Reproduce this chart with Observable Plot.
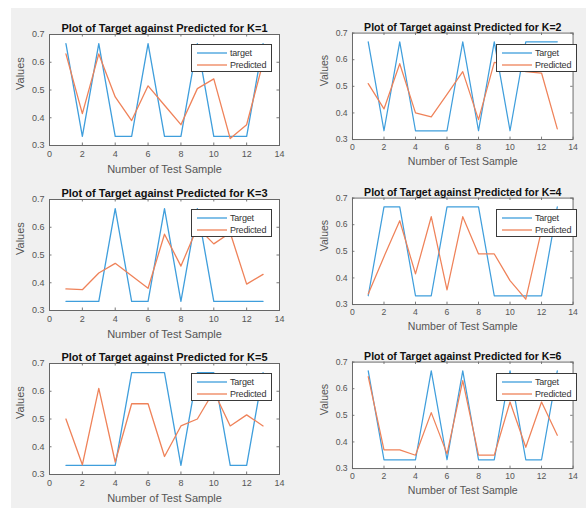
<!DOCTYPE html>
<html>
<head>
<meta charset="utf-8">
<script src="https://cdn.jsdelivr.net/npm/d3@7"></script>
<script src="https://cdn.jsdelivr.net/npm/@observablehq/plot@0.6"></script>
<style>
  html, body { margin: 0; padding: 0; background: #ffffff; overflow: hidden; }
  #fig { position: relative; width: 586px; height: 508px; overflow: hidden; font-family: "Liberation Sans", Arial, sans-serif; }
  #bg { position: absolute; left: 11px; top: 8px; right: 0; bottom: 0; background: #f0f0f0; }
  .panel { position: absolute; }
  .legend { position: absolute; background: #ffffff; border: 1px solid #3a3a3a; box-sizing: border-box; font-size: 9px; color: #333; }
  .legend .row { position: absolute; left: 0; right: 0; height: 12px; }
  .legend svg { position: absolute; left: 5px; top: 0; }
  .legend .lbl { position: absolute; left: 38px; top: 0; line-height: 12px; white-space: nowrap; letter-spacing: -0.2px; }
</style>
</head>
<body>
<div id="fig"><div id="bg"></div></div>
<script>
// ---- data ----
const samples = [1, 2, 3, 4, 5, 6, 7, 8, 9, 10, 11, 12, 13];
const xTicks = [0, 2, 4, 6, 8, 10, 12, 14];
const yTicks = [0.3, 0.4, 0.5, 0.6, 0.7];
const kValues = [1, 2, 3, 4, 5, 6];
const targetLegendLabels = ["target", "Target", "Target", "Target", "Target", "Target"];
const predictedLegendLabel = "Predicted";
const xLabel = "Number of Test Sample";
const yLabel = "Values";

const targetK1 = [0.667, 0.333, 0.667, 0.333, 0.333, 0.667, 0.333, 0.333, 0.667, 0.333, 0.333, 0.333, 0.667];
const predictedK1 = [0.63, 0.415, 0.63, 0.475, 0.39, 0.515, 0.445, 0.375, 0.505, 0.54, 0.325, 0.375, 0.6];

const targetK2 = [0.667, 0.333, 0.667, 0.333, 0.333, 0.333, 0.667, 0.333, 0.667, 0.333, 0.667, 0.667, 0.667];
const predictedK2 = [0.51, 0.415, 0.585, 0.40, 0.385, 0.47, 0.555, 0.375, 0.59, 0.58, 0.555, 0.55, 0.34];

const targetK3 = [0.333, 0.333, 0.333, 0.667, 0.333, 0.333, 0.667, 0.333, 0.667, 0.333, 0.333, 0.333, 0.333];
const predictedK3 = [0.378, 0.375, 0.435, 0.47, 0.425, 0.38, 0.575, 0.46, 0.6, 0.54, 0.58, 0.395, 0.43];

const targetK4 = [0.333, 0.667, 0.667, 0.333, 0.333, 0.667, 0.667, 0.667, 0.333, 0.333, 0.333, 0.333, 0.667];
const predictedK4 = [0.34, 0.48, 0.615, 0.415, 0.63, 0.355, 0.63, 0.49, 0.49, 0.39, 0.32, 0.58, 0.6];

const targetK5 = [0.333, 0.333, 0.333, 0.333, 0.667, 0.667, 0.667, 0.333, 0.667, 0.667, 0.333, 0.333, 0.667];
const predictedK5 = [0.5, 0.335, 0.61, 0.345, 0.555, 0.555, 0.365, 0.475, 0.5, 0.6, 0.475, 0.515, 0.475];

const targetK6 = [0.667, 0.333, 0.333, 0.333, 0.667, 0.333, 0.667, 0.333, 0.333, 0.667, 0.333, 0.333, 0.667];
const predictedK6 = [0.645, 0.37, 0.37, 0.35, 0.51, 0.355, 0.63, 0.35, 0.35, 0.55, 0.38, 0.55, 0.425];

const targets = [targetK1, targetK2, targetK3, targetK4, targetK5, targetK6];
const predicteds = [predictedK1, predictedK2, predictedK3, predictedK4, predictedK5, predictedK6];

// ---- layout / style ----
const blue = "#3f9edc";
const orange = "#ef8259";
const font = "'Liberation Sans', Arial, sans-serif";
const colOffsets = [0, 305];
const rowOffsets = [0, 165, 329];
const W = 293, H = 180, mT = 34, mL = 49, mR = 14, mB = 35;
const fw = W - mL - mR, fh = H - mT - mB;
const tickLen = 2.5;

const fig = document.getElementById("fig");
const svgNS = "http://www.w3.org/2000/svg";

kValues.forEach((k, i) => {
  const col = i % 2, row = Math.floor(i / 2);
  const rows = samples.map((s, j) => ({sample: s, target: targets[i][j], predicted: predicteds[i][j]}));
  const chart = Plot.plot({
    width: W, height: H,
    marginTop: mT, marginLeft: mL, marginRight: mR, marginBottom: mB,
    x: {domain: [0, 14]},
    y: {domain: [0.3, 0.7]},
    style: {background: "transparent", fontFamily: font, overflow: "visible"},
    marks: [
      Plot.frame({fill: "#ffffff"}),
      Plot.tickX(xTicks, {x: d => d, insetTop: fh - tickLen, stroke: "#555", strokeWidth: 0.8}),
      Plot.tickX(xTicks, {x: d => d, insetBottom: fh - tickLen, stroke: "#555", strokeWidth: 0.8}),
      Plot.tickY(yTicks, {y: d => d, insetRight: fw - tickLen, stroke: "#555", strokeWidth: 0.8}),
      Plot.tickY(yTicks, {y: d => d, insetLeft: fw - tickLen, stroke: "#555", strokeWidth: 0.8}),
      Plot.axisX({ticks: xTicks, tickSize: 0, tickPadding: 5, fontSize: 9, fill: "#555", label: null, tickFormat: d3.format("d")}),
      Plot.axisY({ticks: yTicks, tickSize: 0, tickPadding: 5, fontSize: 9, fill: "#555", label: null, tickFormat: d3.format(".1f")}),
      Plot.line(rows, {x: "sample", y: "target", stroke: blue, strokeWidth: 1.3}),
      Plot.line(rows, {x: "sample", y: "predicted", stroke: orange, strokeWidth: 1.3}),
      Plot.frame({stroke: "#666", strokeWidth: 1}),
      Plot.text([`Plot of Target against Predicted for K=${k}`], {frameAnchor: "top", dy: -10, fontWeight: "bold", fontSize: 11, fill: "#111", letterSpacing: "-0.2px"}),
      Plot.text([yLabel], {frameAnchor: "left", dx: -29, rotate: -90, fontSize: 11, fill: "#555"}),
      Plot.text([xLabel], {frameAnchor: "bottom", dy: 27, fontSize: 11, fill: "#555"})
    ]
  });
  const wrap = document.createElement("div");
  wrap.className = "panel";
  wrap.style.left = colOffsets[col] + "px";
  wrap.style.top = rowOffsets[row] + "px";
  wrap.appendChild(chart);
  fig.appendChild(wrap);

  // legend
  const lg = document.createElement("div");
  lg.className = "legend";
  lg.style.left = (colOffsets[col] + mL + 142) + "px";
  lg.style.top = (rowOffsets[row] + mT + 10) + "px";
  lg.style.width = "81px";
  lg.style.height = "28px";
  [[targetLegendLabels[i], blue], [predictedLegendLabel, orange]].forEach(([label, color], r) => {
    const rw = document.createElement("div");
    rw.className = "row";
    rw.style.top = (2 + r * 12) + "px";
    const sv = document.createElementNS(svgNS, "svg");
    sv.setAttribute("width", "31");
    sv.setAttribute("height", "12");
    const ln = document.createElementNS(svgNS, "line");
    ln.setAttribute("x1", "0"); ln.setAttribute("x2", "30");
    ln.setAttribute("y1", "6"); ln.setAttribute("y2", "6");
    ln.setAttribute("stroke", color);
    ln.setAttribute("stroke-width", "1.3");
    sv.appendChild(ln);
    const tx = document.createElement("div");
    tx.className = "lbl";
    tx.textContent = label;
    rw.appendChild(sv);
    rw.appendChild(tx);
    lg.appendChild(rw);
  });
  fig.appendChild(lg);
});
</script>
</body>
</html>
